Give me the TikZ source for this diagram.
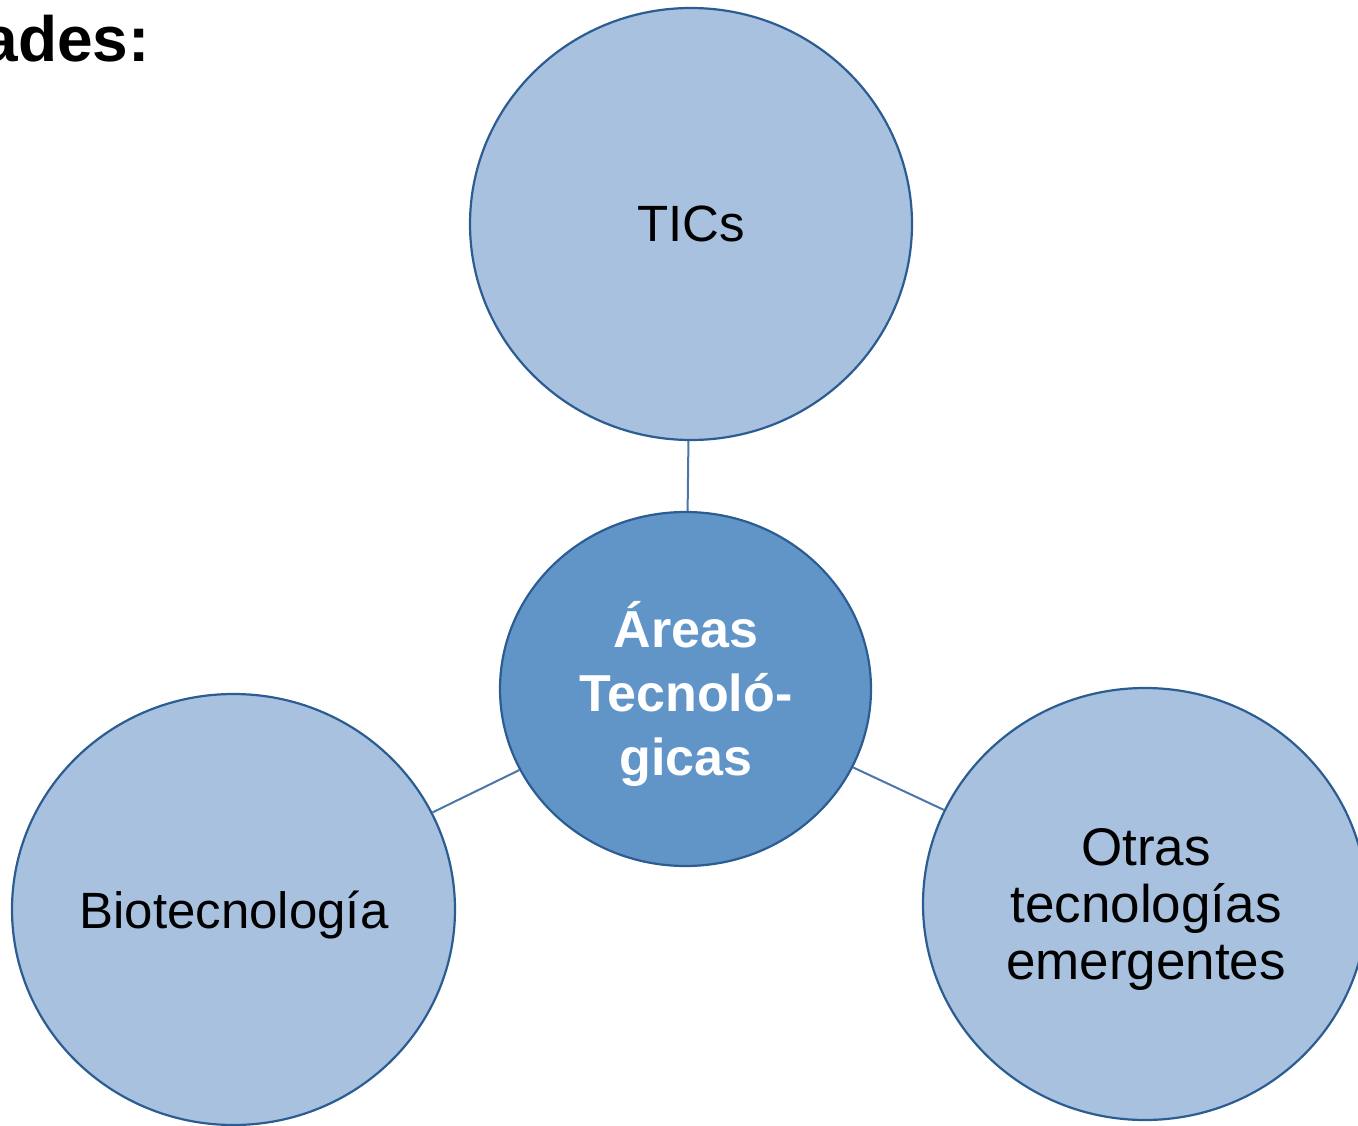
\documentclass[tikz,border=0pt]{standalone}
\usepackage{fontspec}
\setmainfont{Liberation Sans}
\usetikzlibrary{shapes.geometric}
\definecolor{lightfill}{HTML}{A7C1DF}
\definecolor{darkfill}{HTML}{6195C8}
\definecolor{rim}{HTML}{2B5C92}
\definecolor{linkcol}{HTML}{4A77A8}
\tikzset{
  outer/.style={ellipse, draw=rim, line width=2.2pt, fill=lightfill, inner sep=0pt},
  inner/.style={ellipse, draw=rim, line width=2.2pt, fill=darkfill, inner sep=0pt},
  outertext/.style={align=center, inner sep=0pt, font=\fontsize{51}{57}\selectfont, text=black},
  innertext/.style={align=center, inner sep=0pt, font=\fontsize{52}{64}\selectfont\bfseries, text=white},
  link/.style={draw=linkcol, line width=2pt}
}
\begin{document}
\begin{tikzpicture}[x=1pt,y=-1pt]
\useasboundingbox (0,0) rectangle (1358,1126);
\clip (0,0) rectangle (1358,1126);
\node[outer, minimum width=442pt, minimum height=432pt] (tics) at (691,224) {};
\node[inner, minimum width=371pt, minimum height=354pt] (areas) at (685.5,689) {};
\node[outer, minimum width=443pt, minimum height=431pt] (bio) at (233.5,909.5) {};
\node[outer, minimum width=444pt, minimum height=432pt] (otras) at (1145,904) {};
\draw[link] (tics) -- (areas);
\draw[link] (areas) -- (bio);
\draw[link] (areas) -- (otras);
\node[outertext] (ticsT) at (691,224) {TICs};
\node[innertext] (areasT) at (686,694) {Áreas\\Tecnoló-\\gicas};
\node[outertext] (bioT) at (234,915) {Biotecnología};
\node[outertext, font=\fontsize{53}{57}\selectfont] (otrasT) at (1146,909) {Otras\\tecnologías\\emergentes};
\node[anchor=base east, inner sep=0pt, font=\fontsize{64}{70}\selectfont\bfseries] (title) at (150,62) {ades:};
\end{tikzpicture}
\end{document}
